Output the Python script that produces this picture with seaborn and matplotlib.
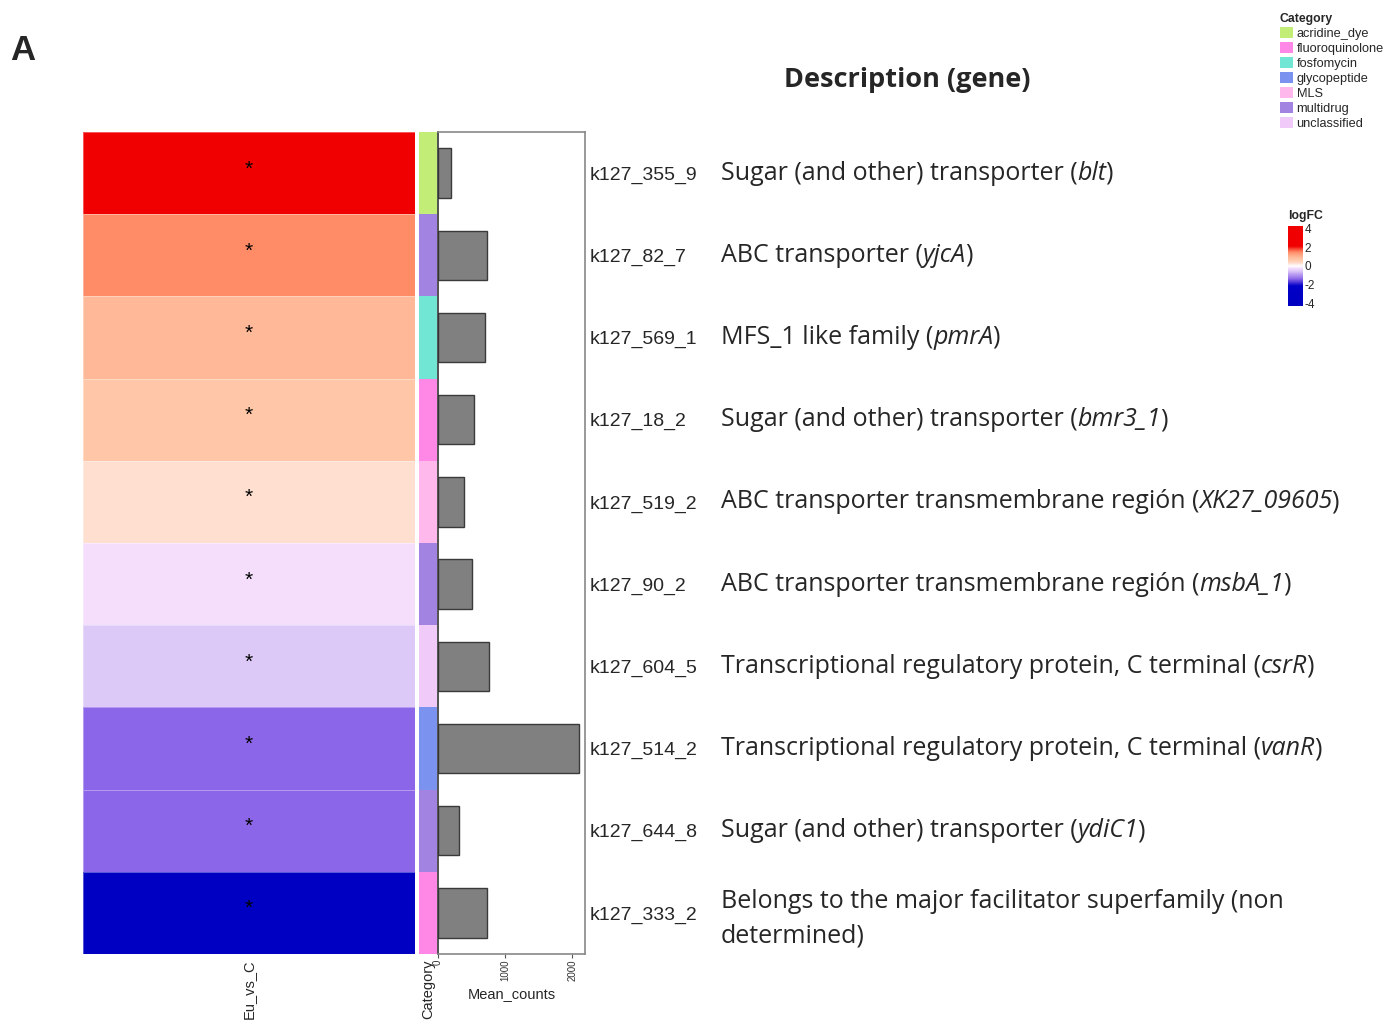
import numpy as np
import pandas as pd
import matplotlib
matplotlib.use("Agg")
import matplotlib.pyplot as plt
from matplotlib.colors import LinearSegmentedColormap, ListedColormap, Normalize
from matplotlib.patches import Patch
from matplotlib.cm import ScalarMappable
import seaborn as sns

# ---- data -------------------------------------------------------------
gene_ids = ["k127_355_9", "k127_82_7", "k127_569_1", "k127_18_2", "k127_519_2",
            "k127_90_2", "k127_604_5", "k127_514_2", "k127_644_8", "k127_333_2"]
log_fc = [3.2, 1.4, 0.9, 0.6, 0.25, -0.25, -0.5, -1.3, -1.3, -3.4]
significant = ["*"] * 10
gene_category = ["acridine_dye", "multidrug", "fosfomycin", "fluoroquinolone", "MLS",
                 "multidrug", "unclassified", "glycopeptide", "multidrug", "fluoroquinolone"]
mean_counts = [200, 727, 697, 540, 390, 505, 761, 2096, 315, 730]
desc_plain = ["Sugar (and other) transporter (",
              "ABC transporter (",
              "MFS_1 like family (",
              "Sugar (and other) transporter (",
              "ABC transporter transmembrane región (",
              "ABC transporter transmembrane región (",
              "Transcriptional regulatory protein, C terminal (",
              "Transcriptional regulatory protein, C terminal (",
              "Sugar (and other) transporter (",
              None]
desc_gene = ["blt", "yjcA", "pmrA", "bmr3_1", "XK27_09605", "msbA_1", "csrR", "vanR", "ydiC1", None]
desc_last = ["Belongs to the major facilitator superfamily (non", "determined)"]

categories = ["acridine_dye", "fluoroquinolone", "fosfomycin", "glycopeptide",
              "MLS", "multidrug", "unclassified"]
category_colors = ["#C2EE78", "#FF88E6", "#72E6D4", "#7B92EE", "#FFB8EC", "#A283E2", "#F0CAF8"]

# ---- style ------------------------------------------------------------
sns.set_style("white")
plt.rcParams["font.family"] = ["Liberation Sans", "DejaVu Sans"]
plt.rcParams["axes.unicode_minus"] = False

W, H = 1400, 1021
fig = plt.figure(figsize=(W / 100, H / 100), dpi=100)


def box(x0, y0, x1, y1):
    return [x0 / W, 1 - y1 / H, (x1 - x0) / W, (y1 - y0) / H]


# logFC colour scale
nodes = [(-4, "#0000C0"), (-2, "#0000C8"), (-1.3, "#8C66E8"), (-0.5, "#DCC8F8"),
         (-0.25, "#F4DCFC"), (0, "#FFFFFF"), (0.25, "#FFE0D2"), (0.6, "#FFC8A8"),
         (0.9, "#FFB898"), (1.4, "#FF8C66"), (2.0, "#F00000"), (4, "#F00000")]
cmap_fc = LinearSegmentedColormap.from_list(
    "logfc", [((v + 4) / 8, c) for v, c in nodes])

top, bottom = 132, 954

# ---- main heatmap -----------------------------------------------------
ax_hm = fig.add_axes(box(83, top, 415, bottom))
fc_df = pd.DataFrame({"Eu_vs_C": log_fc}, index=gene_ids)
annot_df = pd.DataFrame({"Eu_vs_C": significant}, index=gene_ids)
sns.heatmap(fc_df, cmap=cmap_fc, vmin=-4, vmax=4, cbar=False, annot=annot_df, fmt="",
            annot_kws={"fontsize": 15, "color": "black"}, linewidths=0.6,
            linecolor=(1, 1, 1, 0.35), yticklabels=False, ax=ax_hm)
for t in ax_hm.texts:
    t.set_y(t.get_position()[1] - 0.05)
ax_hm.set_ylabel("")
ax_hm.tick_params(axis="x", length=0, pad=4, labelsize=10.5, rotation=90)

# ---- category annotation column --------------------------------------
ax_cat = fig.add_axes(box(419, top, 437, bottom))
cat_df = pd.DataFrame({"Category": [categories.index(c) for c in gene_category]},
                      index=gene_ids)
sns.heatmap(cat_df, cmap=ListedColormap(category_colors), vmin=-0.5,
            vmax=len(categories) - 0.5, cbar=False, yticklabels=False, ax=ax_cat)
ax_cat.set_ylabel("")
ax_cat.tick_params(axis="x", length=0, pad=4, labelsize=10.5, rotation=90)

# ---- mean counts bars -------------------------------------------------
ax_bar = fig.add_axes(box(438, top, 585, bottom))
bar_df = pd.DataFrame({"gene": gene_ids, "Mean_counts": mean_counts})
sns.barplot(data=bar_df, x="Mean_counts", y="gene", orient="h", color="#808080",
            saturation=1, edgecolor="#3a3a3a", linewidth=1, width=0.6, ax=ax_bar)
ax_bar.set_xlim(0, 2192)
ax_bar.set_ylim(len(gene_ids) - 0.5, -0.5)
ax_bar.set_xticks([0, 1000, 2000])
ax_bar.set_xticklabels(["0", "1000", "2000"], rotation=90, fontsize=7, color="#333333")
ax_bar.tick_params(axis="x", bottom=True, length=3, width=0.8, color="#555555", pad=1)
ax_bar.set_xlabel("Mean_counts", fontsize=10.5, labelpad=4)
ax_bar.set_ylabel("")
ax_bar.yaxis.tick_right()
ax_bar.tick_params(axis="y", length=0, pad=3, labelsize=14)
for side, sp in ax_bar.spines.items():
    sp.set_visible(True)
    sp.set_color("#888888")
    sp.set_linewidth(1.2)
ax_bar.spines["left"].set_color("#333333")

# ---- descriptions -----------------------------------------------------
fig.text(907 / W, 1 - 80 / H, "Description (gene)", fontsize=19.5, fontweight="bold",
         family="Open Sans", ha="center", va="center")

fig.canvas.draw()
renderer = fig.canvas.get_renderer()
row_h = (bottom - top) / len(gene_ids)
desc_x = 721
desc_size = 18
desc_font = "Open Sans"
for i in range(len(gene_ids)):
    yc = top + (i + 0.5) * row_h
    if desc_plain[i] is None:
        fig.text(desc_x / W, 1 - (yc - 11) / H, desc_last[0], fontsize=desc_size,
                 family=desc_font, ha="left", va="center")
        fig.text(desc_x / W, 1 - (yc + 23) / H, desc_last[1], fontsize=desc_size,
                 family=desc_font, ha="left", va="center")
        continue
    x = desc_x
    for txt, style in [(desc_plain[i], "normal"), (desc_gene[i], "italic"), (")", "normal")]:
        t = fig.text(x / W, 1 - yc / H, txt, fontsize=desc_size, family=desc_font,
                     style=style, ha="left", va="center")
        x = t.get_window_extent(renderer).x1 - (1 if style == "italic" else 0)

# ---- panel letter -----------------------------------------------------
fig.text(10 / W, 1 - 50 / H, "A", fontsize=25, fontweight="bold", ha="left", va="center")

# ---- legends ----------------------------------------------------------
handles = [Patch(facecolor=c, edgecolor="none", label=l)
           for l, c in zip(categories, category_colors)]
leg = fig.legend(handles=handles, loc="upper left", bbox_to_anchor=(1271 / W, 1 - 4 / H),
                 title="Category", frameon=False, fontsize=9.2, handlelength=1.0,
                 handleheight=1.0, labelspacing=0.15, handletextpad=0.3,
                 borderpad=0.2, alignment="left")
leg.get_title().set_fontweight("bold")
leg.get_title().set_fontsize(8.8)

ax_cb = fig.add_axes(box(1288, 226, 1303, 306))
cb = fig.colorbar(ScalarMappable(norm=Normalize(-4.25, 4.25), cmap=cmap_fc), cax=ax_cb,
                  ticks=[-4, -2, 0, 2, 4])
cb.outline.set_visible(False)
ax_cb.tick_params(direction="in", length=3, color="white", width=0.6, labelsize=8.5, pad=1)
ax_cb.set_title("logFC", fontsize=8.8, fontweight="bold", loc="left", pad=5)

fig.savefig("out.png", dpi=100)
